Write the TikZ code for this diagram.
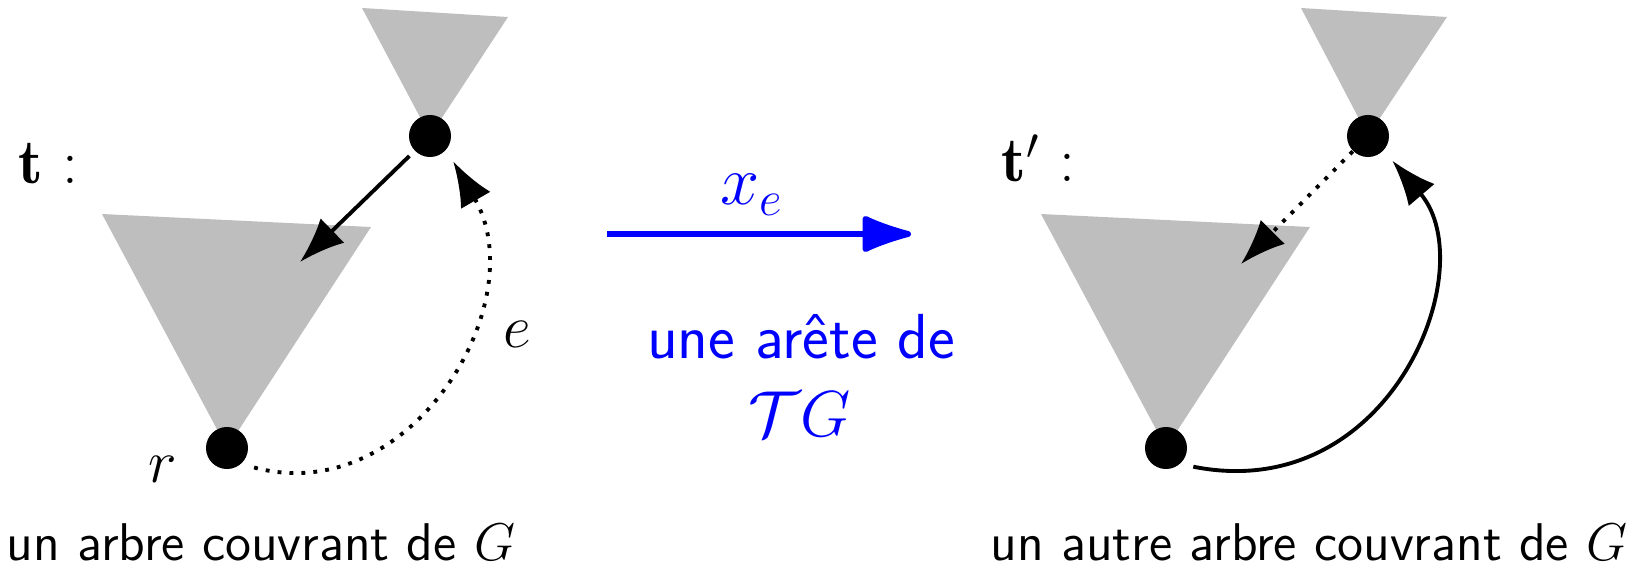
\RequirePackage{fix-cm}
\documentclass[tikz,border=0pt]{standalone}
\usepackage{fontspec}
\usetikzlibrary{arrows.meta}
\definecolor{treegray}{RGB}{190,190,190}
\begin{document}
\begin{tikzpicture}[x=0.01cm,y=0.01cm,
  dot/.style={circle,fill=black,minimum size=0.42cm,inner sep=0pt},
  tri/.style={fill=treegray},
  blk/.style={line width=1.1pt,-{Latex[length=0.45cm,width=0.34cm]}},
  dotline/.style={line width=1.1pt,dash pattern=on 1.1pt off 2.3pt,-{Latex[length=0.45cm,width=0.34cm]}},
  mathlbl/.style={font=\fontsize{17.28}{20}\selectfont},
  tlbl/.style={font=\fontsize{18}{21}\selectfont,anchor=base west,inner sep=0pt},
  midtxt/.style={font=\sffamily\fontsize{18.1}{21}\selectfont,text=blue},
  captxt/.style={font=\sffamily\fontsize{15.1}{18}\selectfont,anchor=base}]
\useasboundingbox (0,0) rectangle (1635,572);
% left tree
\fill[tri] (362,564) -- (508,555) -- (430,436) -- cycle;
\fill[tri] (102,358) -- (371,345) -- (227,124) -- cycle;
\node[dot] (t1) at (430,436) {};
\node[dot] (r1) at (227,124) {};
\coordinate (a1) at (300,310);
\draw[blk, shorten <=0.07cm] (t1) -- (a1);
\draw[dotline, shorten <=0.13cm, shorten >=0.13cm] (r1.-48) to[out=-15,in=-60,looseness=1.2] (t1.-40);
\node[tlbl] (tl) at (18,389) {$\mathbf{t}$ :};
\node[mathlbl] (rl) at (163,103) {$r$};
\node[mathlbl] (el) at (517,238) {$e$};
\node[captxt] (c1) at (261,12) {un arbre couvrant de $G$};
% middle
\coordinate (m1) at (607,338);
\coordinate (m2) at (911,338);
\draw[blue, line width=1.7pt, -{Latex[length=0.59cm,width=0.40cm,round]}] (m1) -- (m2);
\node[font=\fontsize{20}{23}\selectfont,text=blue,anchor=base] (xl) at (752,367) {$x_e$};
\node[midtxt,anchor=base] (u1) at (801,214) {une arête de};
\node[font=\fontsize{18.5}{22}\selectfont,text=blue,anchor=base] (u2) at (800,136) {$\mathcal{T}G$};
% right tree
\fill[tri] (1301,564) -- (1447,555) -- (1368,436) -- cycle;
\fill[tri] (1041,358) -- (1310,345) -- (1166,124) -- cycle;
\node[dot] (t2) at (1368,436) {};
\node[dot] (r2) at (1166,124) {};
\coordinate (a2) at (1241,308);
\draw[dotline] (t2) -- (a2);
\draw[blk, shorten <=0.13cm, shorten >=0.13cm] (r2.-48) .. controls +(210,-42) and +(100,-117) .. (t2.-43);
\node[tlbl] (tl2) at (1001,390) {$\mathbf{t}'$ :};
\node[captxt] (c2) at (1309,12) {un autre arbre couvrant de $G$};
\end{tikzpicture}
\end{document}
